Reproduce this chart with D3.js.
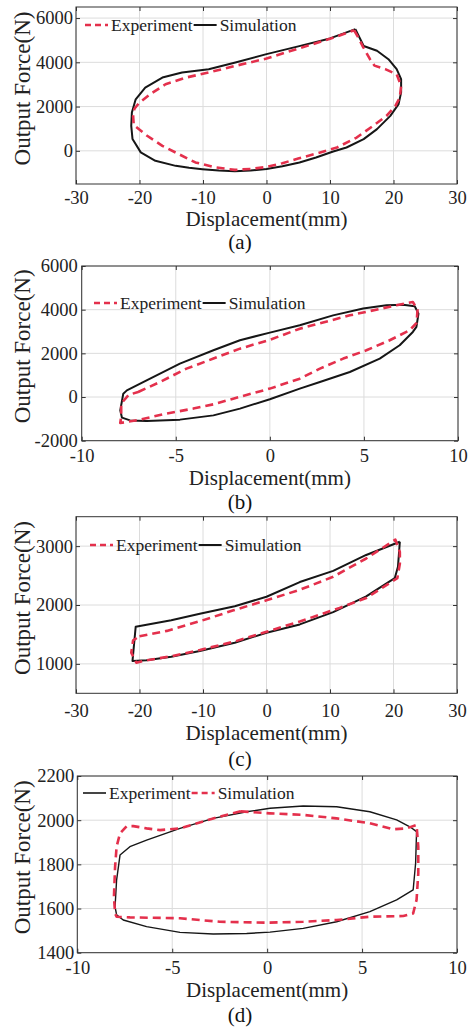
<!DOCTYPE html>
<html>
<head>
<meta charset="utf-8">
<script src="https://cdnjs.cloudflare.com/ajax/libs/d3/7.8.5/d3.min.js"></script>
<style>
  body { margin: 0; background: #fff; }
  svg { display: block; font-family: "Liberation Serif", "Times New Roman", serif; }
</style>
</head>
<body>
<svg id="fig" width="468" height="1032"></svg>
<script>
// ---- data: [displacement mm, force N] ----
var expA = [[13.8,5450],[14.4,5150],[15.2,4700],[16.3,4140],[17.0,3850],[18.7,3690],[20.5,3460],[21.2,2940],
  [21.0,2410],[20.3,2030],[18.9,1580],[16.8,1130],[14.2,600],[11.1,150],[8.2,-100],[5,-350],[2.5,-560],
  [0,-730],[-2.5,-820],[-5,-860],[-8,-750],[-11.2,-525],[-13.8,-150],[-16.4,225],[-18.8,680],[-20.9,1160],
  [-21.0,1550],[-20.8,1900],[-20.1,2150],[-18.3,2560],[-15.9,3010],[-12.7,3310],[-9.1,3540],[-4.9,3840],
  [0,4170],[5,4620],[10,5060],[13.8,5450]];
var simA = [[14.0,5500],[15.3,4740],[17.4,4520],[19.2,4140],[20.5,3690],[21.2,3240],[21.2,2640],[20.8,2110],
  [19.5,1580],[17.4,980],[15.3,530],[12.6,150],[10.5,-30],[7.8,-300],[5.2,-530],[2.5,-700],[0,-820],
  [-2.5,-890],[-5,-925],[-7.5,-890],[-10.1,-830],[-12.2,-770],[-14.3,-680],[-17.5,-450],[-19.8,-70],
  [-21.1,530],[-21.3,1130],[-21.2,1730],[-20.6,2330],[-19.1,2860],[-16.4,3310],[-13.3,3540],[-9.1,3690],
  [-4.9,3990],[0,4370],[5,4720],[10,5080],[14.0,5500]];

var expB = [[-7.0,230],[-5.84,690],[-4.43,1300],[-3.0,1760],[-1.59,2215],[0,2620],[1.59,3130],[4.25,3740],
  [6.73,4200],[7.6,4350],[7.85,4000],[7.8,3400],[7.43,3055],[6.37,2600],[5.13,2140],[3.9,1760],[2.66,1300],
  [1.59,840],[0,385],[-1.95,-75],[-3.0,-335],[-4.07,-530],[-5.5,-760],[-6.9,-1035],[-7.95,-1190],
  [-7.9,-900],[-7.9,-300],[-7.5,100],[-7.0,230]];
var simB = [[7.08,4230],[7.7,4155],[7.9,3820],[7.79,3210],[7.6,2980],[6.9,2370],[5.84,1760],[4.25,1145],
  [2.66,690],[1.59,385],[0,-100],[-1.59,-530],[-3.0,-840],[-4.78,-1035],[-6.55,-1100],[-7.43,-1070],
  [-7.86,-945],[-7.95,-610],[-7.79,155],[-7.6,305],[-6.55,765],[-4.78,1530],[-3.0,2140],[-1.59,2600],
  [0,2950],[1.59,3285],[3.36,3740],[4.96,4050],[6.2,4200],[7.08,4230]];

var expC = [[-20.0,1470],[-15.7,1560],[-10.5,1724],[-5.2,1910],[0,2080],[5.24,2258],[10.5,2480],[15.7,2790],
  [20.3,3110],[21.0,2900],[21.0,2700],[20.6,2455],[15.7,2118],[11.5,1950],[5.24,1720],[0,1545],[-5,1380],
  [-10.5,1235],[-15,1130],[-18.9,1060],[-20.5,1020],[-21.3,1190],[-21.0,1400],[-20.0,1470]];
var simC = [[21.0,3075],[20.7,2650],[20.2,2455],[15.7,2145],[10.5,1880],[5.24,1670],[0,1528],[-5,1360],
  [-10.5,1218],[-15,1120],[-18.9,1060],[-21.1,1050],[-20.6,1630],[-15,1740],[-10.5,1850],[-5,1980],
  [0,2140],[5.24,2390],[10.5,2580],[15.7,2850],[21.0,3075]];

// in (d) the legend is swapped: Experiment is the solid black one
var expD = [[0.15,2054],[1.9,2064],[3.66,2061],[5.41,2038],[6.82,2001],[7.52,1970],[7.87,1948],[7.82,1805],
  [7.69,1684],[6.82,1639],[5.41,1586],[3.66,1540],[1.9,1510],[0.15,1493],[-1.08,1487],[-2.84,1485],
  [-4.59,1492],[-6.35,1518],[-7.58,1548],[-7.93,1571],[-8.01,1608],[-7.93,1729],[-7.75,1842],[-7.23,1880],
  [-6.35,1910],[-4.59,1963],[-2.84,2008],[-1.08,2038],[0.15,2054]];
var simD = [[-1.4,2040],[0.15,2031],[1.9,2024],[3.66,2008],[5.41,1986],[6.64,1959],[7.35,1963],[7.87,1978],
  [7.96,1880],[7.96,1759],[7.87,1639],[7.69,1578],[7.17,1566],[5.41,1563],[3.66,1548],[1.9,1540],[0,1536],
  [-2.49,1540],[-4.59,1556],[-7.23,1560],[-7.93,1563],[-8.01,1578],[-8.07,1653],[-8.01,1789],[-7.93,1880],
  [-7.75,1940],[-7.4,1973],[-7.05,1973],[-6.35,1963],[-5.64,1955],[-4.59,1963],[-2.84,2008],[-1.4,2040]];

var xTicks30 = [-30,-20,-10,0,10,20,30];
var xTicks10 = [-10,-5,0,5,10];
var yTicksA = [0,2000,4000,6000];
var yTicksB = [-2000,0,2000,4000,6000];
var yTicksC = [1000,2000,3000];
var yTicksD = [1400,1600,1800,2000,2200];

var RED = "#e4304c", BLACK = "#161616";
var redLine = {color: RED, dash: "8,5", width: 2.6};
var blackLine = {color: BLACK, dash: null, width: 2};

var svg = d3.select("#fig");
var plain = function (d) { return String(d); };   // "-30", "6000" like the original

function drawPanel(p) {
  var x = d3.scaleLinear().domain(p.xDomain).range([p.left, p.right]);
  var y = d3.scaleLinear().domain(p.yDomain).range([p.bottom, p.top]);
  var w = p.right - p.left, h = p.bottom - p.top;
  var g = svg.append("g");

  // grid
  g.append("g").selectAll("line").data(p.xTicks).enter().append("line")
    .attr("x1", d => x(d)).attr("x2", d => x(d)).attr("y1", p.top).attr("y2", p.bottom)
    .attr("stroke", "#dcdcdc").attr("stroke-width", 1);
  g.append("g").selectAll("line").data(p.yTicks).enter().append("line")
    .attr("y1", d => y(d)).attr("y2", d => y(d)).attr("x1", p.left).attr("x2", p.right)
    .attr("stroke", "#dcdcdc").attr("stroke-width", 1);

  // curves
  var line = d3.line().x(d => x(d[0])).y(d => y(d[1]));
  p.series.forEach(function (s) {
    g.append("path").datum(s.data)
      .attr("d", line)
      .attr("fill", "none")
      .attr("stroke", s.style.color)
      .attr("stroke-width", s.style.width)
      .attr("stroke-dasharray", s.style.dash)
      .attr("stroke-linejoin", "round");
  });

  // axes, ticks pointing in
  var bottom = g.append("g").attr("transform", "translate(0," + p.bottom + ")")
    .call(d3.axisBottom(x).tickValues(p.xTicks).tickFormat(plain)
      .tickSizeInner(-4).tickSizeOuter(0).tickPadding(p.xPad));
  var left = g.append("g").attr("transform", "translate(" + p.left + ",0)")
    .call(d3.axisLeft(y).tickValues(p.yTicks).tickFormat(plain)
      .tickSizeInner(-4).tickSizeOuter(0).tickPadding(p.yPad));
  g.append("g").attr("transform", "translate(0," + p.top + ")")
    .call(d3.axisTop(x).tickValues(p.xTicks).tickSizeInner(-4).tickSizeOuter(0).tickFormat(""));
  g.append("g").attr("transform", "translate(" + p.right + ",0)")
    .call(d3.axisRight(y).tickValues(p.yTicks).tickSizeInner(-4).tickSizeOuter(0).tickFormat(""));
  g.selectAll(".domain").remove();
  g.selectAll(".tick line").attr("stroke", "#333");
  [bottom, left].forEach(function (a) {
    a.attr("font-family", null);
    a.selectAll("text").attr("font-family", "Liberation Serif").attr("font-size", 18.5).attr("fill", "#222");
  });

  g.append("rect").attr("x", p.left).attr("y", p.top).attr("width", w).attr("height", h)
    .attr("fill", "none").attr("stroke", "#333").attr("stroke-width", 1);

  // axis titles
  g.append("text").attr("x", (p.left + p.right) / 2).attr("y", p.bottom + p.xLabelGap)
    .attr("text-anchor", "middle").attr("font-size", 21).attr("fill", "#222")
    .text("Displacement(mm)");
  g.append("text")
    .attr("transform", "translate(30," + ((p.top + p.bottom) / 2 - 7) + ") rotate(-90)")
    .attr("text-anchor", "middle").attr("font-size", 23).attr("fill", "#222")
    .text("Output Force(N)");

  // legend, no frame
  var lx = p.legend.x;
  p.legend.items.forEach(function (it) {
    g.append("line").attr("x1", lx).attr("x2", lx + 23)
      .attr("y1", p.legend.y).attr("y2", p.legend.y)
      .attr("stroke", it.style.color).attr("stroke-width", it.style.width)
      .attr("stroke-dasharray", it.style.dash ? "6,4" : null);
    var t = g.append("text").attr("x", lx + 26).attr("y", p.legend.y).attr("dy", "0.35em")
      .attr("font-size", 17.5).attr("fill", "#222").text(it.name);
    lx = lx + 26 + t.node().getComputedTextLength() + 1;
  });

  svg.append("text").attr("x", 240).attr("y", p.tagY).attr("text-anchor", "middle")
    .attr("font-size", 21).attr("fill", "#111").text(p.tag);
}

drawPanel({
  left: 76, right: 457, top: 7, bottom: 184,
  xDomain: [-30, 30], yDomain: [-1500, 6500], xTicks: xTicks30, yTicks: yTicksA,
  xPad: 7, yPad: 3, xLabelGap: 42, tag: "(a)", tagY: 249,
  series: [{data: simA, style: blackLine}, {data: expA, style: redLine}],
  legend: {x: 85, y: 25, items: [{name: "Experiment", style: redLine}, {name: "Simulation", style: blackLine}]}
});
drawPanel({
  left: 81.7, right: 458, top: 266, bottom: 440.7,
  xDomain: [-10, 10], yDomain: [-2000, 6000], xTicks: xTicks10, yTicks: yTicksB,
  xPad: 8, yPad: 4, xLabelGap: 44, tag: "(b)", tagY: 509,
  series: [{data: simB, style: blackLine}, {data: expB, style: redLine}],
  legend: {x: 94, y: 303, items: [{name: "Experiment", style: redLine}, {name: "Simulation", style: blackLine}]}
});
drawPanel({
  left: 76, right: 457, top: 516.7, bottom: 693.3,
  xDomain: [-30, 30], yDomain: [500, 3500], xTicks: xTicks30, yTicks: yTicksC,
  xPad: 11, yPad: 3, xLabelGap: 47, tag: "(c)", tagY: 766,
  series: [{data: simC, style: blackLine}, {data: expC, style: redLine}],
  legend: {x: 90, y: 545, items: [{name: "Experiment", style: redLine}, {name: "Simulation", style: blackLine}]}
});
drawPanel({
  left: 77.3, right: 457, top: 776, bottom: 952.7,
  xDomain: [-10, 10], yDomain: [1400, 2200], xTicks: xTicks10, yTicks: yTicksD,
  xPad: 8, yPad: 3, xLabelGap: 44, tag: "(d)", tagY: 1022,
  series: [{data: expD, style: {color: BLACK, dash: null, width: 1.4}}, {data: simD, style: redLine}],
  legend: {x: 83, y: 793, items: [{name: "Experiment", style: {color: BLACK, dash: null, width: 1.6}},
                                  {name: "Simulation", style: redLine}]}
});
</script>
</body>
</html>
